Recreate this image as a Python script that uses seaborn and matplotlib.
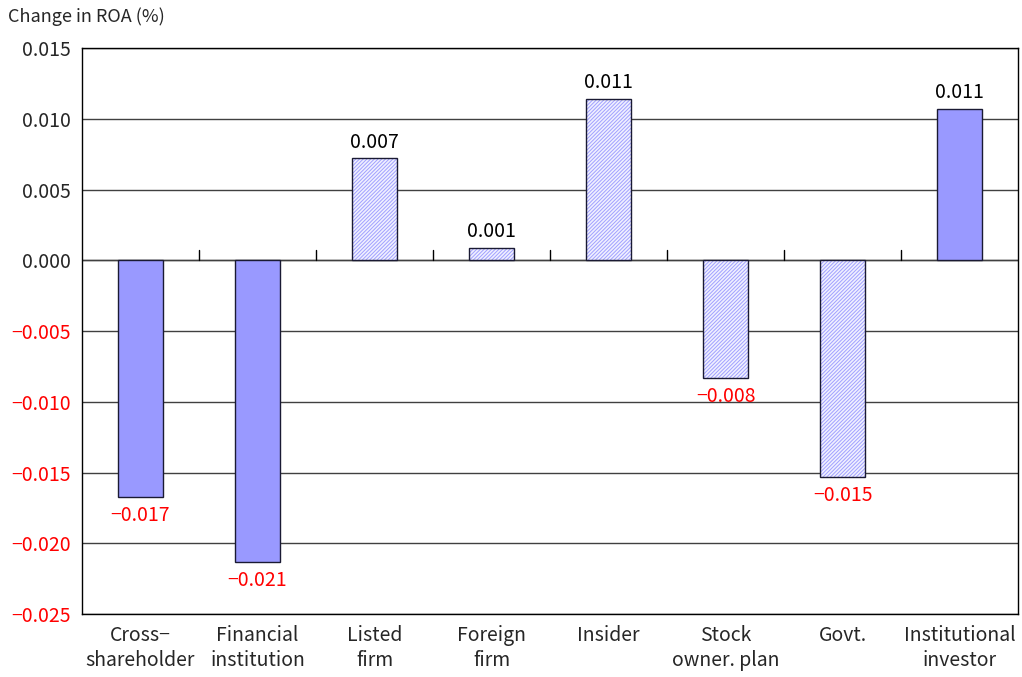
import numpy as np
import pandas as pd
import seaborn as sns
import matplotlib.pyplot as plt
from matplotlib.ticker import FuncFormatter

categories = ['Cross−\nshareholder', 'Financial\ninstitution', 'Listed\nfirm', 'Foreign\nfirm',
              'Insider', 'Stock\nowner. plan', 'Govt.', 'Institutional\ninvestor']
values = [-0.0167, -0.0213, 0.0072, 0.0009, 0.0114, -0.0083, -0.0153, 0.0107]
labels = ['−0.017', '−0.021', '0.007', '0.001', '0.011', '−0.008', '−0.015', '0.011']
solid = [True, True, False, False, False, False, False, True]
yticks = [0.015, 0.010, 0.005, 0.000, -0.005, -0.010, -0.015, -0.020, -0.025]

sns.set_style('white')
plt.rcParams['font.family'] = ['Noto Sans CJK JP', 'DejaVu Sans']
plt.rcParams['hatch.linewidth'] = 0.7

df = pd.DataFrame({'cat': categories, 'val': values})

fig = plt.figure(figsize=(10.22, 6.77), dpi=100)
ax = fig.add_axes([0.0802, 0.093, 0.916, 0.836])

sns.barplot(data=df, x='cat', y='val', color='#9999ff', width=0.39,
            saturation=1, ax=ax, zorder=3)

for p, s in zip(ax.patches, solid):
    p.set_edgecolor('#1a1a33')
    p.set_linewidth(1.0)
    if not s:
        p.set_facecolor('#f0f0ff')
        p.set_edgecolor('#a0a0ff')
        p.set_hatch('/////////')
        p.set_linewidth(0)
        # outline on top
        ax.add_patch(plt.Rectangle(p.get_xy(), p.get_width(), p.get_height(),
                                   fill=False, edgecolor='#1a1a33', linewidth=1.0, zorder=4))

for i, (v, lab) in enumerate(zip(values, labels)):
    if v >= 0:
        ax.annotate(lab, (i, v), xytext=(0, 4), textcoords='offset points',
                    ha='center', va='bottom', fontsize=14, color='black')
    else:
        ax.annotate(lab, (i, v), xytext=(0, -6), textcoords='offset points',
                    ha='center', va='top', fontsize=14, color='red')

ax.set_ylim(-0.025, 0.015)
ax.set_xlim(-0.5, len(categories) - 0.5)
ax.set_yticks(yticks)
ax.yaxis.set_major_formatter(FuncFormatter(lambda v, _: f'{v:.3f}'.replace('-', '−')))
for t, v in zip(ax.get_yticklabels(), yticks):
    if v < 0:
        t.set_color('red')
ax.tick_params(axis='y', labelsize=14, length=0, pad=8)
ax.tick_params(axis='x', labelsize=14, length=0, pad=8)
for t in ax.get_xticklabels():
    t.set_linespacing(1.25)
ax.set_xlabel('')
ax.set_ylabel('')
ax.grid(axis='y', color='#404040', linewidth=1, zorder=0)
ax.axhline(0, color='#404040', linewidth=1, zorder=2)

# category separator ticks on the zero line
for b in np.arange(0.5, len(categories) - 0.5, 1):
    ax.plot([b, b], [0, 0.0007], color='black', linewidth=1, zorder=2)

for sp in ax.spines.values():
    sp.set_visible(True)
    sp.set_color('black')
    sp.set_linewidth(1)

fig.text(0.008, 0.975, 'Change in ROA (%)', fontsize=13, ha='left', va='center')

fig.savefig('out.png', dpi=100)
